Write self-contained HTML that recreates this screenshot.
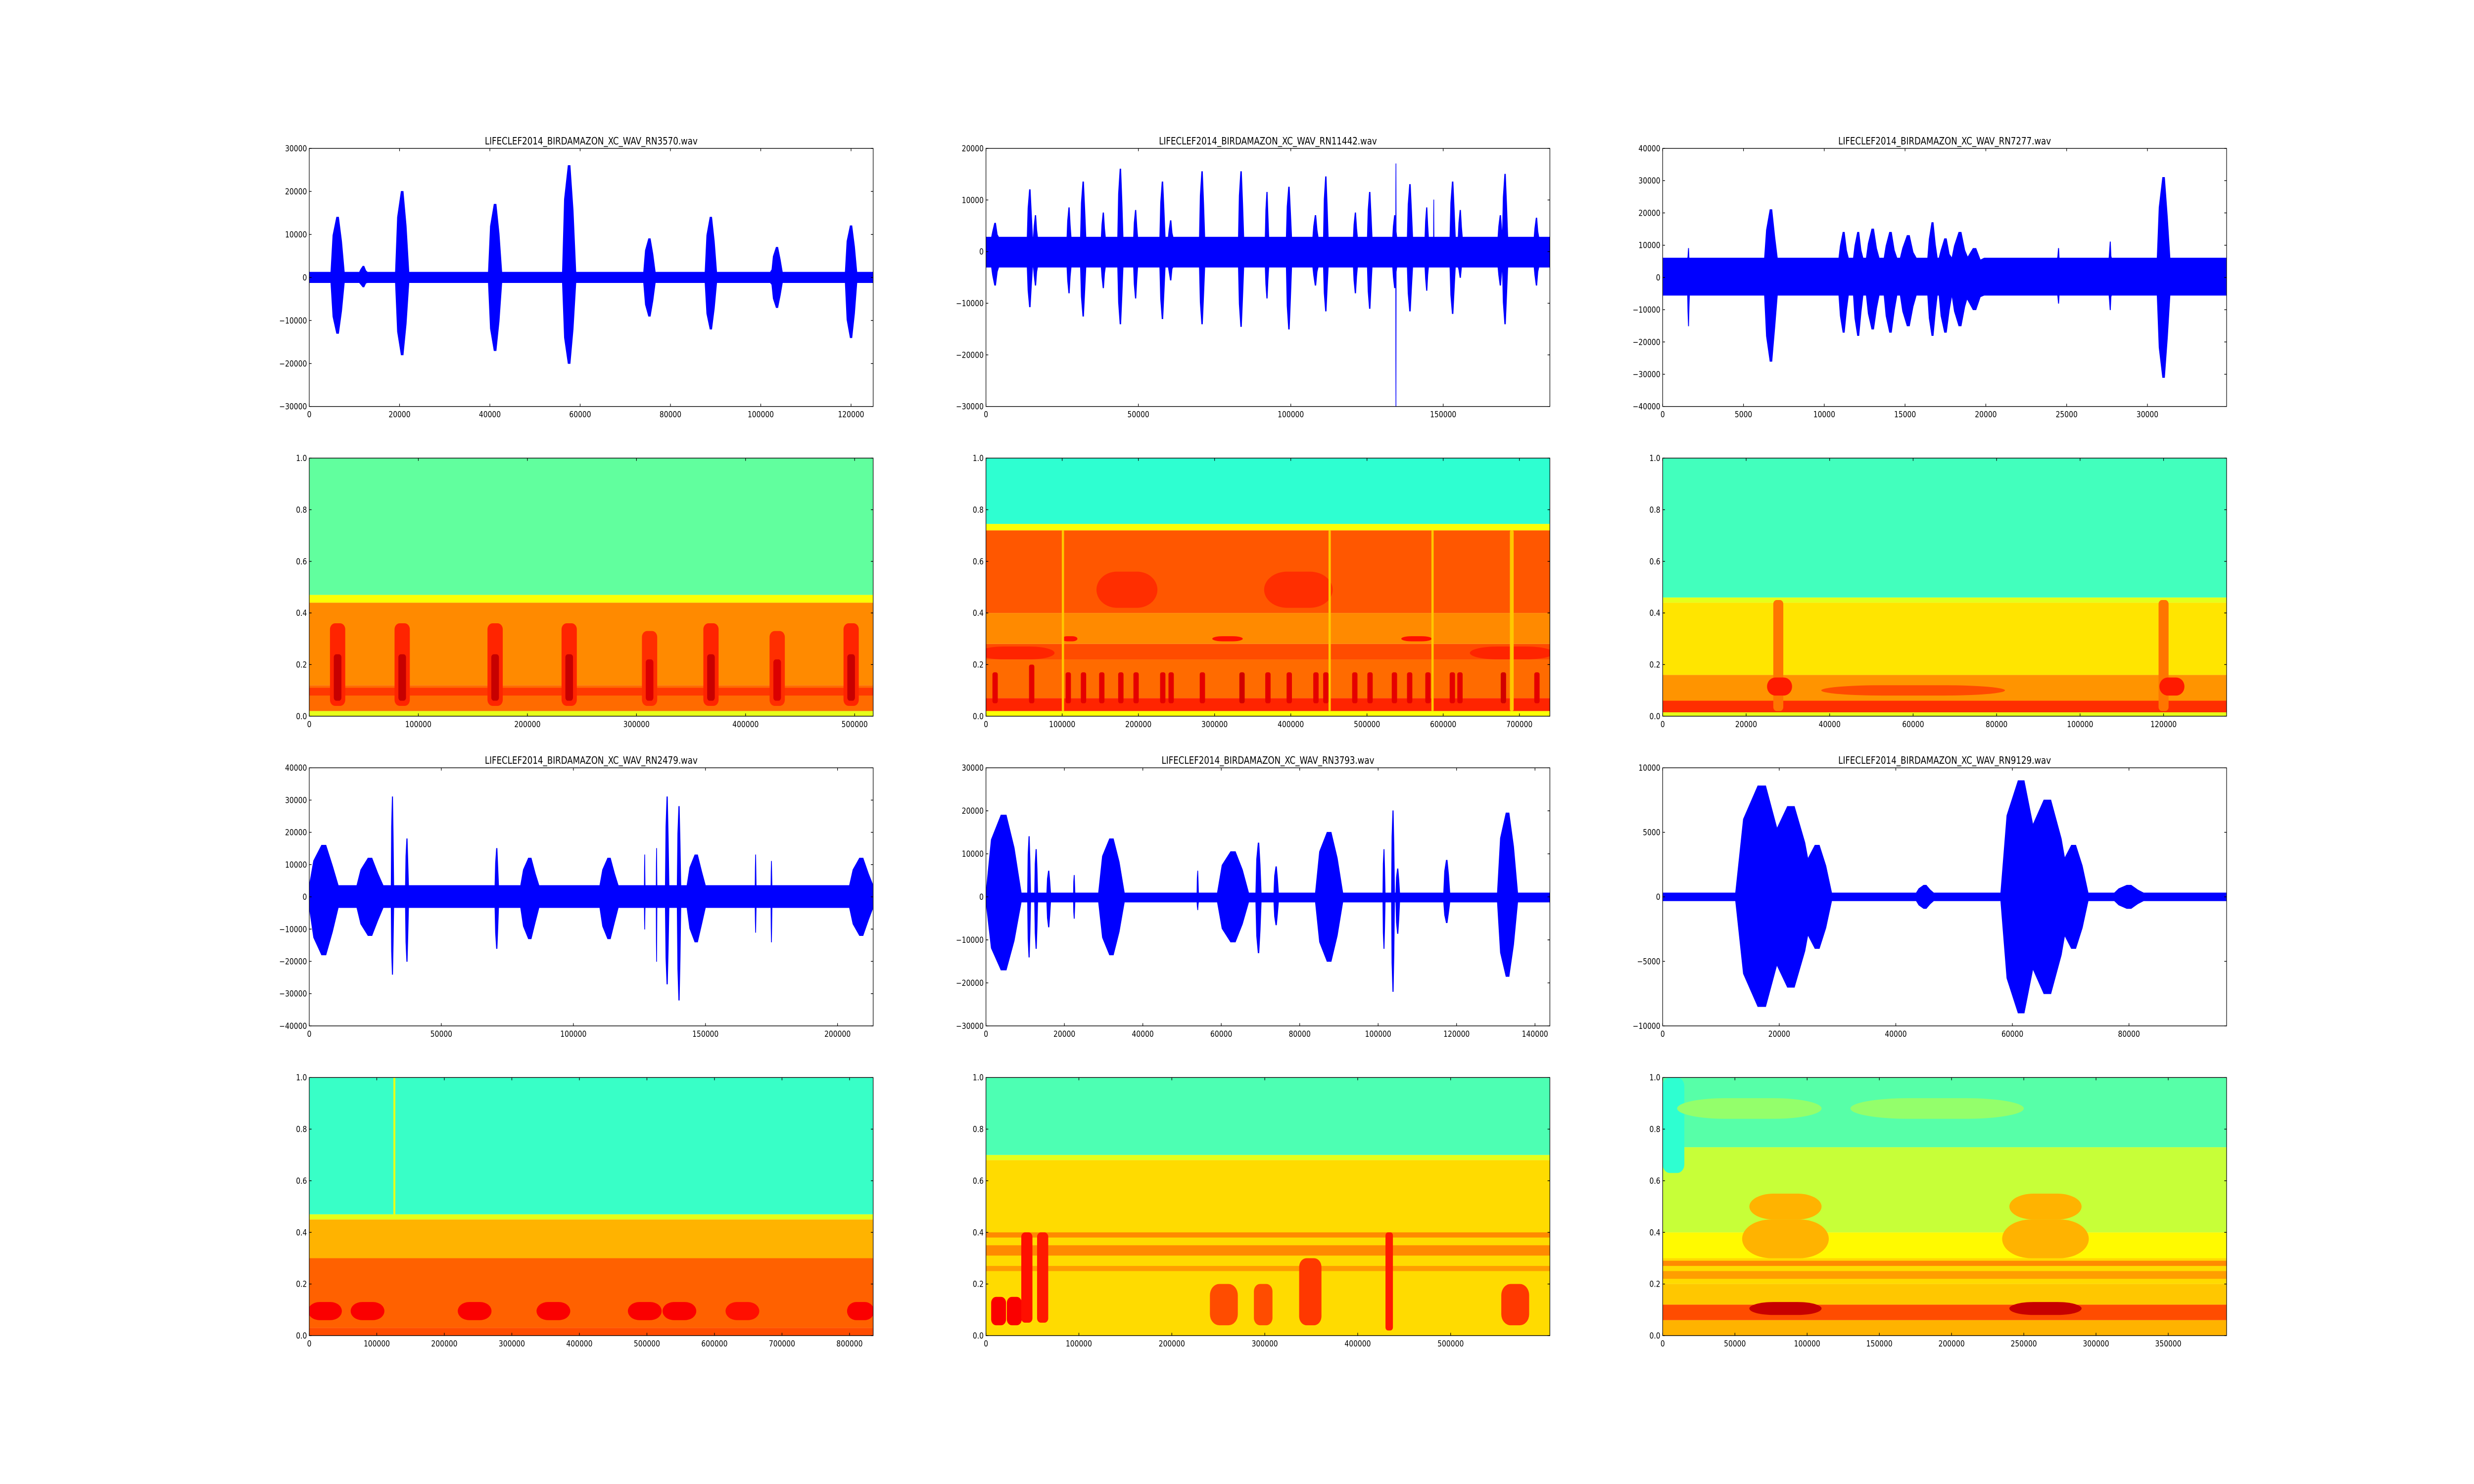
<!DOCTYPE html>
<html><head><meta charset="utf-8">
<style>
html,body{margin:0;padding:0;background:#fff;width:100%;height:100%;overflow:hidden;}
svg{display:block;width:100vw;height:100vh;font-family:"DejaVu Sans","Liberation Sans",sans-serif;}
</style></head>
<body>
<svg id="fig" viewBox="0 0 6000 3000" preserveAspectRatio="none" xmlns="http://www.w3.org/2000/svg">
<rect width="6000" height="3000" fill="#fff"/>
</svg>
<script>
// ---------------- Waveform data (bursts: center, halfwidth, +amp, -amp) ----------------
const wave1Centers=[6280,20580,41160,57560,75350,88950,103600,120000,12000,103000];
const wave1HalfW=[1500,1500,1500,1500,1300,1300,1200,1300,900,900];
const wave1Pos=[14000,20000,17000,26000,9000,14000,7000,12000,2600,2400];
const wave1Neg=[-13000,-18000,-17000,-20000,-9000,-12000,-7000,-14000,-2200,-2200];
const wave1Base=[1200,-1200];

const wave2Centers=[14400,16250,27250,31900,38500,44100,49100,57900,60600,70900,83700,92200,99400,108100,111500,121200,125900,134100,134500,139100,144600,146900,153100,155600,168750,170300,180600,3000];
const wave2HalfW=[900,700,700,900,700,900,700,900,800,900,900,600,900,900,800,700,800,700,80,900,600,80,900,700,800,900,800,1200];
const wave2Pos=[12000,7000,8500,13500,7500,16000,8000,13500,6000,15500,15500,11500,12500,7000,14500,7500,11500,7000,17000,13000,8500,10000,13500,8000,7000,15000,6500,5500];
const wave2Neg=[-10700,-6500,-8000,-12500,-7000,-14000,-9000,-13000,-5500,-14000,-14500,-9000,-15000,-6500,-11500,-8000,-11000,-7000,-30000,-11500,-7500,-3000,-12000,-5000,-6500,-14000,-6500,-6500];
const wave2Base=[2800,-3000];

const wave3Centers=[6700,11200,12100,13000,14100,15200,16700,17500,18400,19300,31000,1600,24500,27700];
const wave3HalfW=[400,300,300,400,400,500,300,400,500,600,400,60,80,80];
const wave3Pos=[21000,14000,14000,15000,14000,13000,17000,12000,14000,9000,31000,9000,9000,11000];
const wave3Neg=[-26000,-17000,-18000,-16000,-17000,-15000,-18000,-17000,-15000,-10000,-31000,-15000,-8000,-10000];
const wave3Base=[6000,-5500];

const wave4Centers=[5500,23000,31500,37000,71000,83500,113500,135500,140000,146500,169000,175000,209000,131500,127000];
const wave4HalfW=[5500,5000,500,600,700,3500,3500,700,700,3500,200,200,4500,150,150];
const wave4Pos=[16000,12000,31000,18000,15000,12000,12000,31000,28000,13000,13000,11000,12000,15000,13000];
const wave4Neg=[-18000,-12000,-24000,-20000,-16000,-13000,-13000,-27000,-32000,-14000,-11000,-14000,-12000,-20000,-10000];
const wave4Base=[3500,-3300];

const wave5Centers=[4500,11000,12800,16000,32000,54000,63000,69500,74000,87500,101500,103800,105000,117500,133000,22500];
const wave5HalfW=[4500,400,400,500,3300,200,4000,700,600,3500,300,400,500,800,2600,200];
const wave5Pos=[19000,14000,11000,6000,13500,6000,10500,12500,7000,15000,11000,20000,6500,8500,19500,5000];
const wave5Neg=[-17000,-14000,-12000,-7000,-13500,-3000,-10500,-13000,-6500,-15000,-12000,-22000,-8500,-6000,-18500,-5000];
const wave5Base=[900,-1200];

const wave6Centers=[17000,22000,26500,61500,66000,70500,80000,45000];
const wave6HalfW=[4500,4000,2500,3500,4000,2500,2500,1500];
const wave6Pos=[8600,7000,4000,9000,7500,4000,900,900];
const wave6Neg=[-8500,-7000,-4000,-9000,-7500,-4000,-900,-900];
const wave6Base=[300,-300];

// ---------------- Spectrogram data (bands & calls) ----------------
const spec1BandLo=[0,0.02,0.12,0.08,0.44,0.47];
const spec1BandHi=[0.02,0.12,0.44,0.11,0.47,1];
const spec1BandV=[0.6,0.77,0.74,0.82,0.62,0.47];
const spec1CallT=[26000,85200,170400,238300,312000,368300,429000,496800,26000,85200,170400,238300,312000,368300,429000,496800];
const spec1CallW=[7000,7000,7000,7000,7000,7000,7000,7000,3500,3500,3500,3500,3500,3500,3500,3500];
const spec1CallLo=[0.04,0.04,0.04,0.04,0.04,0.04,0.04,0.04,0.06,0.06,0.06,0.06,0.06,0.06,0.06,0.06];
const spec1CallHi=[0.36,0.36,0.36,0.36,0.33,0.36,0.33,0.36,0.24,0.24,0.24,0.24,0.22,0.24,0.22,0.24];
const spec1CallV=[0.84,0.84,0.84,0.84,0.83,0.84,0.83,0.84,0.93,0.93,0.93,0.93,0.91,0.93,0.91,0.93];

const spec2BandLo=[0,0.02,0.07,0.22,0.28,0.4,0.72,0.745];
const spec2BandHi=[0.02,0.07,0.22,0.28,0.4,0.72,0.745,1];
const spec2BandV=[0.62,0.84,0.77,0.8,0.74,0.79,0.62,0.42];
const spec2CallT=[185000,410000,40000,690000,110000,317000,565000,101000,451000,586000,690000,12000,60000,108000,128000,152000,177000,197000,232000,243000,284000,336000,370000,398000,433000,446000,484000,504000,536000,556000,580000,612000,622000,679000,723000];
const spec2CallW=[40000,45000,50000,55000,10000,20000,20000,1500,1500,1500,2500,3500,3500,3500,3500,3500,3500,3500,3500,3500,3500,3500,3500,3500,3500,3500,3500,3500,3500,3500,3500,3500,3500,3500,3500];
const spec2CallLo=[0.42,0.42,0.22,0.22,0.29,0.29,0.29,0.02,0.02,0.02,0.02,0.05,0.05,0.05,0.05,0.05,0.05,0.05,0.05,0.05,0.05,0.05,0.05,0.05,0.05,0.05,0.05,0.05,0.05,0.05,0.05,0.05,0.05,0.05,0.05];
const spec2CallHi=[0.56,0.56,0.27,0.27,0.31,0.31,0.31,0.72,0.72,0.72,0.72,0.17,0.2,0.17,0.17,0.17,0.17,0.17,0.17,0.17,0.17,0.17,0.17,0.17,0.17,0.17,0.17,0.17,0.17,0.17,0.17,0.17,0.17,0.17,0.17];
const spec2CallV=[0.83,0.83,0.84,0.84,0.86,0.86,0.86,0.68,0.68,0.68,0.68,0.9,0.9,0.9,0.9,0.9,0.9,0.9,0.9,0.9,0.9,0.92,0.9,0.9,0.9,0.9,0.9,0.9,0.9,0.9,0.9,0.9,0.9,0.92,0.9];

const spec3BandLo=[0,0.015,0.06,0.16,0.44,0.46];
const spec3BandHi=[0.015,0.06,0.16,0.44,0.46,1];
const spec3BandV=[0.6,0.83,0.73,0.65,0.6,0.44];
const spec3CallT=[27700,120000,60000,28000,122000];
const spec3CallW=[1200,1200,22000,3000,3000];
const spec3CallLo=[0.02,0.02,0.08,0.08,0.08];
const spec3CallHi=[0.45,0.45,0.12,0.15,0.15];
const spec3CallV=[0.76,0.76,0.8,0.85,0.85];

const spec4BandLo=[0,0.03,0.3,0.45,0.47];
const spec4BandHi=[0.03,0.3,0.45,0.47,1];
const spec4BandV=[0.8,0.78,0.7,0.6,0.43];
const spec4CallT=[23300,86300,244900,361500,496800,548100,641400,816300,126000];
const spec4CallW=[25000,25000,25000,25000,25000,25000,25000,20000,1500];
const spec4CallLo=[0.06,0.06,0.06,0.06,0.06,0.06,0.06,0.06,0.45];
const spec4CallHi=[0.13,0.13,0.13,0.13,0.13,0.13,0.13,0.13,1];
const spec4CallV=[0.88,0.88,0.88,0.88,0.88,0.88,0.86,0.88,0.6];

const spec5BandLo=[0,0.25,0.31,0.38,0.68,0.7];
const spec5BandHi=[0.68,0.27,0.35,0.4,0.7,1];
const spec5BandV=[0.66,0.72,0.74,0.74,0.6,0.45];
const spec5CallT=[13600,30500,44000,61000,256000,298300,349000,433900,569500];
const spec5CallW=[8000,8000,6000,6000,15000,10000,12000,4000,15000];
const spec5CallLo=[0.04,0.04,0.05,0.05,0.04,0.04,0.04,0.02,0.04];
const spec5CallHi=[0.15,0.15,0.4,0.4,0.2,0.2,0.3,0.4,0.2];
const spec5CallV=[0.88,0.88,0.86,0.85,0.8,0.8,0.82,0.85,0.82];

const spec6BandLo=[0,0.06,0.12,0.2,0.22,0.27,0.3,0.4,0.73];
const spec6BandHi=[0.06,0.12,0.2,0.3,0.25,0.29,0.4,0.73,1];
const spec6BandV=[0.7,0.8,0.68,0.66,0.72,0.74,0.63,0.57,0.46];
const spec6CallT=[7500,60000,190000,85000,265000,85000,265000,85000,265000];
const spec6CallW=[7500,50000,60000,30000,30000,25000,25000,25000,25000];
const spec6CallLo=[0.63,0.84,0.84,0.3,0.3,0.45,0.45,0.08,0.08];
const spec6CallHi=[1,0.92,0.92,0.45,0.45,0.55,0.55,0.13,0.13];
const spec6CallV=[0.42,0.52,0.52,0.7,0.7,0.7,0.7,0.93,0.93];

// ---------------- Axis ranges & ticks ----------------
const waveTitles=["LIFECLEF2014_BIRDAMAZON_XC_WAV_RN3570.wav","LIFECLEF2014_BIRDAMAZON_XC_WAV_RN11442.wav","LIFECLEF2014_BIRDAMAZON_XC_WAV_RN7277.wav","LIFECLEF2014_BIRDAMAZON_XC_WAV_RN2479.wav","LIFECLEF2014_BIRDAMAZON_XC_WAV_RN3793.wav","LIFECLEF2014_BIRDAMAZON_XC_WAV_RN9129.wav"];
const waveXMax=[124900,185000,34900,213500,143800,96750];
const waveYMin=[-30000,-30000,-40000,-40000,-30000,-10000];
const waveYMax=[30000,20000,40000,40000,30000,10000];
const waveXTicks=[[0,20000,40000,60000,80000,100000,120000],[0,50000,100000,150000],[0,5000,10000,15000,20000,25000,30000],[0,50000,100000,150000,200000],[0,20000,40000,60000,80000,100000,120000,140000],[0,20000,40000,60000,80000]];
const waveYTicks=[[-30000,-20000,-10000,0,10000,20000,30000],[-30000,-20000,-10000,0,10000,20000],[-40000,-30000,-20000,-10000,0,10000,20000,30000,40000],[-40000,-30000,-20000,-10000,0,10000,20000,30000,40000],[-30000,-20000,-10000,0,10000,20000,30000],[-10000,-5000,0,5000,10000]];
const specXMax=[517000,740000,135100,835000,606800,390400];
const specXTicks=[[0,100000,200000,300000,400000,500000],[0,100000,200000,300000,400000,500000,600000,700000],[0,20000,40000,60000,80000,100000,120000],[0,100000,200000,300000,400000,500000,600000,700000,800000],[0,100000,200000,300000,400000,500000],[0,50000,100000,150000,200000,250000,300000,350000]];
const specYTicks=[0,0.2,0.4,0.6,0.8,1.0];

const waves=[
 [wave1Centers,wave1HalfW,wave1Pos,wave1Neg,wave1Base],
 [wave2Centers,wave2HalfW,wave2Pos,wave2Neg,wave2Base],
 [wave3Centers,wave3HalfW,wave3Pos,wave3Neg,wave3Base],
 [wave4Centers,wave4HalfW,wave4Pos,wave4Neg,wave4Base],
 [wave5Centers,wave5HalfW,wave5Pos,wave5Neg,wave5Base],
 [wave6Centers,wave6HalfW,wave6Pos,wave6Neg,wave6Base]];
const specs=[
 [spec1BandLo,spec1BandHi,spec1BandV,spec1CallT,spec1CallW,spec1CallLo,spec1CallHi,spec1CallV],
 [spec2BandLo,spec2BandHi,spec2BandV,spec2CallT,spec2CallW,spec2CallLo,spec2CallHi,spec2CallV],
 [spec3BandLo,spec3BandHi,spec3BandV,spec3CallT,spec3CallW,spec3CallLo,spec3CallHi,spec3CallV],
 [spec4BandLo,spec4BandHi,spec4BandV,spec4CallT,spec4CallW,spec4CallLo,spec4CallHi,spec4CallV],
 [spec5BandLo,spec5BandHi,spec5BandV,spec5CallT,spec5CallW,spec5CallLo,spec5CallHi,spec5CallV],
 [spec6BandLo,spec6BandHi,spec6BandV,spec6CallT,spec6CallW,spec6CallLo,spec6CallHi,spec6CallV]];

// ---------------- Rendering ----------------
const NS="http://www.w3.org/2000/svg";
const svg=document.getElementById('fig');
const AX_W=4650/3.4, AX_H=2400/4.6;
const colX=[750,750+AX_W*1.2,750+AX_W*2.4];
const rowY=[300,300+AX_H*1.2,300+AX_H*2.4,300+AX_H*3.6];
function mk(tag,attrs,parent){const e=document.createElementNS(NS,tag);for(const k in attrs)e.setAttribute(k,attrs[k]);(parent||svg).appendChild(e);return e;}
function jet(v){const c=x=>Math.round(255*Math.max(0,Math.min(1,x)));return `rgb(${c(1.5-Math.abs(4*v-3))},${c(1.5-Math.abs(4*v-2))},${c(1.5-Math.abs(4*v-1))})`;}
function fmt(v,dec){const s=dec?Math.abs(v).toFixed(1):String(Math.abs(v));return (v<0?'\u2212':'')+s;}

function drawAxes(g,x0,y0,xs,ys,xTicks,yTicks,dec){
  const tl=5.6;
  xTicks.forEach(t=>{
    const x=xs(t);
    const tk=mk('path',{d:`M${x},${y0+AX_H}v${-tl}M${x},${y0}v${tl}`,stroke:'#000','stroke-width':1.4},g);
    
    
    const lb=mk('text',{x:x,y:y0+AX_H+22,'font-size':16.7,'text-anchor':'middle',fill:'#000'},g);
    lb.textContent=fmt(t,false);
    
    
  });
  yTicks.forEach(t=>{
    const y=ys(t);
    const tk=mk('path',{d:`M${x0},${y}h${tl}M${x0+AX_W},${y}h${-tl}`,stroke:'#000','stroke-width':1.4},g);
    
    
    const lb=mk('text',{x:x0-5.6,y:y+6,'font-size':16.7,'text-anchor':'end',fill:'#000'},g);
    lb.textContent=fmt(t,dec);
    
    
  });
  const fr=mk('rect',{x:x0,y:y0,width:AX_W,height:AX_H,fill:'none',stroke:'#000','stroke-width':1.4},g);
  
  
}

for(let i=0;i<6;i++){
  const col=i%3, wr=Math.floor(i/3)*2, sr=wr+1;
  const x0=colX[col], y0=rowY[wr];
  const xmax=waveXMax[i], ymin=waveYMin[i], ymax=waveYMax[i];
  const xs=v=>x0+v/xmax*AX_W, ys=v=>y0+(ymax-v)/(ymax-ymin)*AX_H;
  const g=mk('g',{});
  
  
  const cid='clipw'+i;
  const cp=mk('clipPath',{id:cid},g); mk('rect',{x:x0,y:y0,width:AX_W,height:AX_H},cp);
  const [cs,hw,ps,ns,base]=waves[i];
  const idx=cs.map((_,k)=>k).sort((a,b)=>cs[a]-cs[b]);
  let top=[[0,base[0]]], bot=[[0,base[1]]];
  idx.forEach(k=>{
    const c=cs[k],w=hw[k];
    top.push([c-w,base[0]],[c-0.7*w,0.7*ps[k]],[c-0.15*w,ps[k]],[c+0.15*w,ps[k]],[c+0.6*w,0.6*ps[k]],[c+w,base[0]]);
    bot.push([c-w,base[1]],[c-0.7*w,0.7*ns[k]],[c-0.15*w,ns[k]],[c+0.15*w,ns[k]],[c+0.6*w,0.6*ns[k]],[c+w,base[1]]);
  });
  top.push([xmax,base[0]]); bot.push([xmax,base[1]]);
  const pts=top.map(p=>xs(p[0]).toFixed(1)+','+ys(p[1]).toFixed(1)).concat(bot.reverse().map(p=>xs(p[0]).toFixed(1)+','+ys(p[1]).toFixed(1)));
  const wl=mk('polygon',{points:pts.join(' '),fill:'#0000ff',stroke:'#0000ff','stroke-width':1.5,'clip-path':`url(#${cid})`},g);
  
  
  drawAxes(g,x0,y0,xs,ys,waveXTicks[i],waveYTicks[i],false);
  const tt=mk('text',{x:x0+AX_W/2,y:y0-8,'font-size':20,'text-anchor':'middle',fill:'#000'},g);
  tt.textContent=waveTitles[i];
  
  

  const sy0=rowY[sr], sxmax=specXMax[i];
  const sxs=v=>x0+v/sxmax*AX_W, sys=v=>sy0+(1-v)*AX_H;
  const sg=mk('g',{});
  
  
  const scid='clips'+i;
  const scp=mk('clipPath',{id:scid},sg); mk('rect',{x:x0,y:sy0,width:AX_W,height:AX_H},scp);
  const inner=mk('g',{'clip-path':`url(#${scid})`},sg);
  const [bl,bh,bv,ct,cw,cl,ch,cv]=specs[i];
  bl.forEach((lo,k)=>{
    const r=mk('rect',{x:x0,y:sys(bh[k]),width:AX_W,height:sys(lo)-sys(bh[k]),fill:jet(bv[k])},inner);
    
    
  });
  ct.forEach((t,k)=>{
    const r=mk('rect',{x:sxs(t-cw[k]),y:sys(ch[k]),width:sxs(t+cw[k])-sxs(t-cw[k]),height:sys(cl[k])-sys(ch[k]),rx:(sxs(t+cw[k])-sxs(t-cw[k]))/3,fill:jet(cv[k])},inner);
    
    
  });
  drawAxes(sg,x0,sy0,sxs,sys,specXTicks[i],specYTicks,true);
}
</script>
</body></html>
